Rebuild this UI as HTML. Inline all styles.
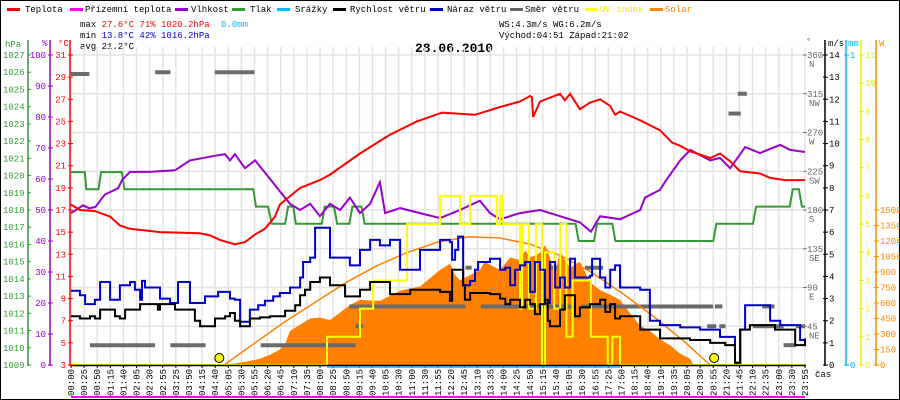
<!DOCTYPE html>
<html><head><meta charset="utf-8"><style>
html,body{margin:0;padding:0;background:#fff}
#wrap{position:relative;width:900px;height:400px;overflow:hidden}
svg text{font-family:"Liberation Mono",monospace;font-size:9px}
</style></head><body>
<div id="wrap">
<svg id="chart" width="900" height="400" viewBox="0 0 900 400" xmlns="http://www.w3.org/2000/svg">
<rect x="0.5" y="0.5" width="899" height="399" fill="#fff" stroke="#000"/>
<g id="legend">
 <g><rect x="7" y="8" width="13" height="3" fill="#f00"/><text x="25" y="12">Teplota</text></g>
 <g><rect x="70" y="8" width="13" height="3" fill="#f0f"/><text x="85" y="12">Přízemní teplota</text></g>
 <g><rect x="175" y="8" width="13" height="3" fill="#90c"/><text x="191" y="12">Vlhkost</text></g>
 <g><rect x="232" y="8" width="13" height="3" fill="#393"/><text x="250" y="12">Tlak</text></g>
 <g><rect x="277" y="8" width="13" height="3" fill="#0bf"/><text x="295" y="12">Srážky</text></g>
 <g><rect x="333" y="8" width="13" height="3" fill="#000"/><text x="350" y="12">Rychlost větru</text></g>
 <g><rect x="430" y="8" width="13" height="3" fill="#00c"/><text x="447" y="12">Náraz větru</text></g>
 <g><rect x="510" y="8" width="13" height="3" fill="#666"/><text x="525" y="12">Směr větru</text></g>
 <g><rect x="585" y="8" width="13" height="3" fill="#ff0"/><text x="600" y="12" fill="#ee0">UV index</text></g>
 <g><rect x="650" y="8" width="13" height="3" fill="#f80"/><text x="665" y="12" fill="#f80">Solar</text></g>
</g>
<g>
 <text x="80" y="27">max <tspan fill="#f00">27.6°C</tspan> <tspan fill="#f00">71%</tspan>  <tspan fill="#f00">1020.2hPa</tspan>  <tspan fill="#0bf" dx="6">0.0mm</tspan></text>
 <text x="80" y="38">min <tspan fill="#00c">13.8°C</tspan> <tspan fill="#00c">42%</tspan>  <tspan fill="#00c">1016.2hPa</tspan></text>
 <text x="80" y="49">avg 21.2°C</text>
 <text x="499" y="27">WS:4.3m/s    WG:6.2m/s</text>
 <text x="499" y="38">Východ:04:51  Západ:21:02</text>
</g>
<text x="415" y="52" style="font-size:13px;font-weight:bold">28.06.2010</text>
<g id="grid"></g>
<g id="series"></g>
<g id="axes"></g>
</svg>
</div>
<script>
// ---- data (hours since midnight / values) ----
const xLabels=["00:00","00:25","00:50","01:15","01:40","02:05","02:30","02:55","03:25","03:50","04:15","04:40","05:05","05:30","05:55","06:20","06:45","07:10","07:35","08:00","08:25","08:50","09:15","09:40","10:05","10:30","11:00","11:30","11:55","12:20","12:45","13:10","13:35","14:00","14:25","14:50","15:15","15:40","16:05","16:30","16:55","17:25","17:50","18:15","18:40","19:10","19:35","20:05","20:30","20:55","21:20","21:45","22:10","22:35","23:00","23:30","23:55"];
const tempH=[0,.29,.78,1.28,1.6,1.93,2.91,4.22,4.55,4.87,5.36,5.69,6.02,6.34,6.67,6.83,7.49,8.14,8.47,9.45,10.43,11.31,12.13,13.21,14.03,14.68,15.01,15.07,15.11,15.34,15.99,16.15,16.32,16.64,16.97,17.3,17.63,17.79,17.95,18.61,19.26,19.65,19.92,20.24,20.57,20.9,21.22,21.55,21.88,22.53,22.86,23.35,24];
const tempV=[17.5,17.0,16.9,16.4,15.6,15.3,15.0,14.9,14.7,14.3,13.9,14.1,14.8,15.3,16.4,17.5,19.0,19.7,20.2,22.1,23.8,25.0,25.8,25.6,26.3,26.8,27.3,27.2,25.4,26.8,27.5,26.9,27.5,26.1,26.7,27.0,26.4,25.6,25.9,25.1,24.2,23.1,22.8,22.3,22.0,21.7,22.1,21.4,20.5,20.3,19.9,19.7,19.7];
const humH=[0,.4,.6,.8,.95,1.11,1.54,1.67,1.93,2.58,3.4,3.89,4.7,5.04,5.2,5.36,5.69,6.02,6.51,6.83,7.16,7.49,7.82,8.14,8.47,8.8,9.12,9.45,9.78,10.1,10.27,10.76,11.41,12.07,12.72,13.37,13.7,14.03,14.68,15.34,15.99,16.64,17.0,17.3,17.95,18.61,18.77,19.26,19.42,19.92,20.25,20.57,20.9,21.22,21.55,21.88,22.04,22.53,23.19,23.51,24];
const humV=[49,51.5,50.5,51,53,55,57,59.7,62.3,62.3,62.8,66,67.5,68,66,68,63.5,66,60,56,52,50,52,48,52,50,54,49,52,59,49,50.6,49,47.4,50,53,49,47,49,50,48,46,43,48,47,50,54,56.5,59,66,69.4,67.7,66,66.8,63.5,68,70.3,68.4,71,69.4,68.7];
const presH=[0,.45,.5,.9,.98,1.66,1.75,5.96,6.05,6.44,6.57,7.0,7.1,7.27,7.35,8.2,8.3,8.6,8.7,9.1,9.2,9.5,9.6,10.6,10.8,16.5,16.6,17.1,17.2,17.7,17.8,21.0,21.1,22.3,22.4,23.5,23.6,23.8,23.9,24];
const presV=[1020.2,1020.2,1019.2,1019.2,1020.2,1020.2,1019.2,1019.2,1018.2,1018.2,1017.2,1017.2,1018.2,1018.2,1017.2,1017.2,1018.2,1018.2,1017.2,1017.2,1018.2,1018.2,1017.2,1017.2,1017.2,1017.2,1016.2,1016.2,1017.2,1017.2,1016.2,1016.2,1017.2,1017.2,1018.2,1018.2,1019.2,1019.2,1018.2,1018.2];
const windH=[0,.29,.62,.78,.95,1.28,1.44,1.6,1.77,2.09,2.26,2.58,2.84,2.91,3.07,3.4,3.89,4.05,4.22,4.55,4.71,5.04,5.2,5.36,5.53,5.79,5.85,6.18,6.51,7.0,7.33,7.49,7.65,7.82,8.14,8.47,8.96,9.45,9.78,10.43,11.09,12.07,12.39,12.46,12.72,12.82,12.88,13.05,13.7,14.03,14.2,14.36,14.68,14.85,15.01,15.17,15.34,15.5,15.59,15.66,15.99,16.15,16.32,16.48,16.64,16.97,17.3,17.47,17.63,17.79,17.95,18.61,19.26,20.24,20.9,21.39,21.6,21.71,21.88,22.2,23.02,23.68,24];
const windV=[2.2,2.1,2.2,2.1,2.5,2.5,2.2,2.1,2.5,2.5,2.75,2.75,2.5,2.75,2.75,2.5,2.5,2.0,1.75,1.75,2.1,2.2,2.35,2.0,1.75,1.75,2.1,2.15,2.2,2.45,2.7,3.15,3.4,3.75,3.95,3.6,3.1,3.4,3.75,3.2,3.4,3.3,2.9,4.3,4.3,3.6,2.95,3.25,3.2,3.0,2.75,2.95,2.6,2.95,2.75,2.3,2.75,2.95,2.0,1.75,2.5,3.15,3.15,2.2,2.6,2.75,2.95,2.4,2.75,2.1,2.2,1.6,1.2,1.13,1.0,0.9,0.9,0.1,1.6,1.8,1.6,0.9,1.13];
const gustH=[0,.29,.46,.78,.95,1.11,1.28,1.44,1.6,1.86,1.93,2.09,2.26,2.32,2.42,2.75,2.91,3.24,3.4,3.5,3.73,3.89,4.22,4.38,4.61,4.81,5.04,5.2,5.36,5.53,5.69,5.85,6.12,6.34,6.61,6.83,7.16,7.49,7.59,7.82,7.98,8.31,8.47,8.96,9.12,9.45,9.78,10.1,10.43,10.76,11.09,11.41,12.07,12.39,12.46,12.56,12.66,12.79,12.82,12.98,13.05,13.21,13.31,13.7,14.03,14.2,14.36,14.52,14.68,14.85,15.01,15.17,15.34,15.5,15.66,15.83,15.99,16.15,16.32,16.48,16.64,16.97,17.04,17.3,17.47,17.63,17.79,17.95,18.61,18.93,19.26,19.92,20.57,21.22,21.6,21.71,21.88,22.04,22.43,22.86,23.19,23.84,24];
const gustV=[3.35,3.15,2.75,2.95,3.75,3.75,2.95,2.95,3.6,3.6,3.75,3.4,2.95,3.8,3.5,3.5,3.0,2.8,2.8,3.75,3.75,2.8,2.8,3.1,3.1,3.3,3.3,3.0,2.95,1.95,1.95,2.5,2.7,2.9,3.1,3.25,3.5,3.95,4.65,4.85,6.2,6.2,4.85,4.85,4.5,5.2,5.65,5.4,5.65,4.3,4.3,5.2,5.65,5.55,4.75,5.2,5.8,5.8,3.6,3.6,3.8,4.3,4.65,4.8,4.3,4.4,3.6,4.3,4.5,4.65,3.3,4.65,4.3,2.8,4.65,3.5,3.95,3.5,4.8,3.95,3.95,4.03,4.8,3.95,3.5,4.3,4.5,3.5,3.4,2.0,1.8,1.7,1.6,1.27,1.27,0.1,1.6,2.7,2.7,2.0,1.8,1.13,1.2];
const solarH=[5.0,5.7,6.18,6.51,6.83,7.0,7.16,7.49,7.82,8.14,8.47,9.12,9.45,10.1,10.76,11.41,12.07,12.39,12.56,12.72,13.05,13.37,13.53,13.7,14.03,14.36,14.68,14.85,15.01,15.34,15.5,15.66,15.83,15.99,16.15,16.32,16.64,16.97,17.3,17.63,17.95,18.28,18.61,18.93,19.26,19.59,19.92,20.24,20.35];
const solarV=[0,30,60,100,150,200,330,390,450,460,435,580,630,620,720,760,920,980,870,820,870,920,1000,970,920,1040,1015,1110,1040,1085,1160,1040,870,1110,1015,940,1000,800,725,680,630,500,380,330,250,190,110,60,0];
const clearH=[5.0,6,7,8,9,10,11,12,13,14,15,16,17,18,19,20,20.9];
const clearV=[0,210,420,610,800,960,1090,1190,1240,1230,1170,1060,900,700,480,240,0];
const uvH=[0,8.37,9.45,9.88,10.99,12.07,12.72,13.05,13.93,14.03,14.13,14.68,14.75,14.97,15.2,15.4,15.5,15.8,16.0,16.2,16.4,17.0,17.55,17.7,17.95,24];
const uvV=[0,1,2,3,5,6,5,6,5,6,5,2,5,2,5,0,4,2,5,1,3,1,0,1,0,0];
const dirStart=[0,0.62,2.75,3.25,4.7,6.2,9.3,9.1,12.9,13.4,15.7,16.8,16.7,20.8,21.05,21.2,21.5,21.8,22.3,22.6,23.3,23.7];
const dirEnd=[0.6,2.75,3.25,4.4,6.0,9.3,9.55,12.9,13.1,16.5,15.9,17.4,21.0,21.1,21.3,21.4,21.9,22.1,23.3,23.0,23.7,24];
const dirDeg=[338,23,340,23,340,23,45,68,113,68,113,113,68,45,68,45,292,315,45,68,23,45];
const sunMarks=[4.85,21.03];

// ---- scales ----
const X0=71,X1=805,YT=55,YB=365;
const xs=h=>X0+h/24*(X1-X0);
const yT=t=>YB-(t-3)/28*(YB-YT);
const yP=p=>YB-(p-1009)/18*(YB-YT);
const yH=v=>YB-v/100*(YB-YT);
const yW=v=>YB-v/14*(YB-YT);
const yD=d=>YB-d/360*(YB-YT);
const yU=v=>YB-v/11*(YB-YT);
const yS=v=>YB-v/1500*(YB-210);
const NS="http://www.w3.org/2000/svg";
function mk(tag,attrs,parent){const e=document.createElementNS(NS,tag);for(const k in attrs)e.setAttribute(k,attrs[k]);parent.appendChild(e);return e;}
const grid=document.getElementById('grid'),ser=document.getElementById('series'),axes=document.getElementById('axes');

// grid
for(let d=0;d<=360;d+=45){const g=mk('line',{x1:X0,x2:X1+1,y1:yD(d),y2:yD(d),stroke:'#e6e2e2','stroke-width':1.5},grid);

}
xLabels.forEach((lab,i)=>{const x=X0+i*(X1-X0)/(xLabels.length-1);
 const g=mk('line',{x1:x,x2:x,y1:YT-8,y2:YB,stroke:'#e6e2e2','stroke-width':1.5},grid);
 
 
 const t=mk('text',{x:0,y:0,transform:`translate(${x+3},396) rotate(-90)`,'font-size':'9'},axes);t.textContent=lab;
 
 
 mk('line',{x1:x,x2:x,y1:YB,y2:YB+3,stroke:'#000'},axes);
});

function pts(H,V,fy){return H.map((h,i)=>xs(h).toFixed(1)+','+fy(V[i]).toFixed(1)).join(' ');}
function stepPts(H,V,fy){let a=[];for(let i=0;i<H.length;i++){const x=xs(H[i]);if(i>0)a.push(x.toFixed(1)+','+fy(V[i-1]).toFixed(1));a.push(x.toFixed(1)+','+fy(V[i]).toFixed(1));}return a.join(' ');}

// solar fill
const sp=pts(solarH,solarV,yS);
const solar=mk('polygon',{points:xs(solarH[0])+','+YB+' '+sp+' '+xs(solarH[solarH.length-1])+','+YB,fill:'#ff8000',stroke:'none'},ser);


// pressure
const pl=mk('polyline',{points:pts(presH,presV,yP),fill:'none',stroke:'#339933','stroke-width':2},ser);


// wind direction
dirDeg.forEach((d,i)=>{const r=mk('line',{x1:xs(dirStart[i]),x2:xs(dirEnd[i]),y1:yD(d),y2:yD(d),stroke:'#6b6b6b','stroke-width':4},ser);
 
 });
// clear sky
const cl=mk('polyline',{points:pts(clearH,clearV,yS),fill:'none',stroke:'#ff8000','stroke-width':1.5},ser);


// humidity
const hl=mk('polyline',{points:pts(humH,humV,yH),fill:'none',stroke:'#9900cc','stroke-width':2},ser);


// temperature
const tl=mk('polyline',{points:pts(tempH,tempV,yT),fill:'none',stroke:'#ff0000','stroke-width':2},ser);


// uv
const ul=mk('polyline',{points:stepPts(uvH,uvV,yU),fill:'none',stroke:'#ffff00','stroke-width':2},ser);


// gust
const gl=mk('polyline',{points:stepPts(gustH,gustV,yW),fill:'none',stroke:'#0000cc','stroke-width':2},ser);


// wind
const wl=mk('polyline',{points:stepPts(windH,windV,yW),fill:'none',stroke:'#000','stroke-width':2},ser);


// sunrise/sunset
sunMarks.forEach(h=>{const c=mk('circle',{cx:xs(h),cy:358,r:4.5,fill:'#ff0',stroke:'#000','stroke-width':1},ser);
 
 });

// baseline + bottom line
mk('line',{x1:70,x2:X1+1,y1:YB+0.5,y2:YB+0.5,stroke:'#000','stroke-width':1.5},axes);
mk('line',{x1:xs(8.37),x2:xs(17.95),y1:YB+2,y2:YB+2,stroke:'#0bf','stroke-width':1.5},axes);
mk('line',{x1:71,x2:X1,y1:397,y2:397,stroke:'#f0f','stroke-width':2},axes);

// axes helper
function axis(x,color,vals,fy,fmt,side,title,tx){
 mk('line',{x1:x,x2:x,y1:YT-15,y2:YB+1,stroke:color,'stroke-width':1.5},axes);
 vals.forEach(v=>{const y=fy(v);mk('line',{x1:x-2,x2:x+3,y1:y,y2:y,stroke:color},axes);
  const t=mk('text',{x:side<0?x-4:x+4,y:y+3,fill:color,'text-anchor':side<0?'end':'start'},axes);t.textContent=fmt(v);
  
  });
 const t=mk('text',{x:tx,y:46,fill:color},axes);t.textContent=title;
 
 
}
const r=(a,b,s)=>{let o=[];for(let v=a;v<=b+1e-9;v+=s)o.push(+v.toFixed(2));return o;};
// hPa labels left of line
mk('line',{x1:28,x2:28,y1:40,y2:YB+1,stroke:'#393','stroke-width':1.5},axes);
r(1009,1027,1).forEach(p=>{const y=yP(p);mk('line',{x1:27,x2:31,y1:y,y2:y,stroke:'#393'},axes);const t=mk('text',{x:3,y:y+3,fill:'#393'},axes);t.textContent=p;
 
 });
{const t=mk('text',{x:5,y:47,fill:'#393'},axes);t.textContent='hPa';}
axis(50,'#90c',r(0,100,10),yH,v=>v,-1,'%',42);
axis(70,'#f00',r(3,31,2),yT,v=>v,-1,'°C',58);
// right axes
r(0,360,45).forEach((d,i)=>{if(d===0)return;const y=yD(d);mk('line',{x1:X1-2,x2:X1+2,y1:y,y2:y,stroke:'#777'},axes);
 const t=mk('text',{x:X1+2,y:y+3,fill:'#666'},axes);t.textContent=d;
 const n=mk('text',{x:X1+4,y:y+12,fill:'#666'},axes);n.textContent=['','NE','E','SE','S','SW','W','NW','N'][i];});
{const t=mk('text',{x:806,y:44,fill:'#666'},axes);t.textContent='°';}
axis(825,'#000',r(0,14,1),yW,v=>v,1,'m/s',828);
axis(846,'#0bf',[0,1],v=>v?YT:YB,v=>v,1,'mm',848);
axis(861,'#ee0',r(0,11,1),yU,v=>v,1,'',0);
mk('line',{x1:876,x2:876,y1:40,y2:YB+1,stroke:'#f80','stroke-width':1.5},axes);
r(0,1500,150).forEach(v=>{const y=yS(v);mk('line',{x1:874,x2:879,y1:y,y2:y,stroke:'#f80'},axes);const t=mk('text',{x:880,y:y+3,fill:'#f80'},axes);t.textContent=v;});
{const t=mk('text',{x:879,y:46,fill:'#f80'},axes);t.textContent='W';}
{const t=mk('text',{x:815,y:377,fill:'#000'},axes);t.textContent='čas';}
</script>
</body></html>
